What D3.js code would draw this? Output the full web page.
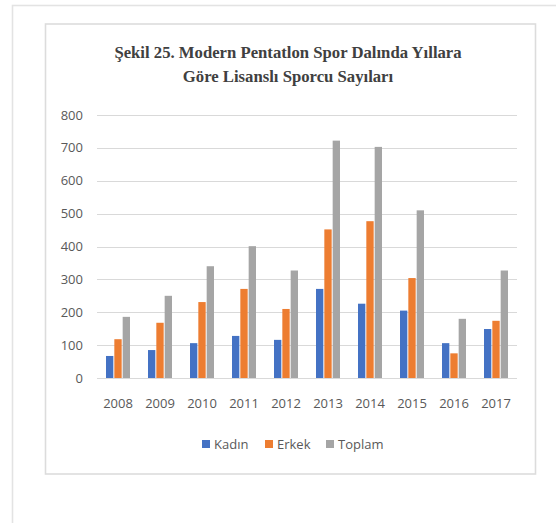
<!DOCTYPE html>
<html>
<head>
<meta charset="utf-8">
<script src="https://cdn.jsdelivr.net/npm/d3@7"></script>
<style>
  body { margin: 0; background: #fff; }
  svg { display: block; }
</style>
</head>
<body>
<svg id="chart"></svg>
<script>
const width = 556;
const height = 523;

// values
const years = ["2008", "2009", "2010", "2011", "2012", "2013", "2014", "2015", "2016", "2017"];
const seriesNames = ["Kadın", "Erkek", "Toplam"];
const kadin  = [67, 85, 106, 128, 116, 271, 226, 205, 106, 149];
const erkek  = [118, 168, 231, 271, 210, 452, 477, 304, 75, 174];
const toplam = [186, 250, 340, 401, 327, 722, 703, 510, 180, 327];
const yTicks = [0, 100, 200, 300, 400, 500, 600, 700, 800];
const colors = ["#4472C4", "#ED7D31", "#A5A5A5"];

const series = [kadin, erkek, toplam];
const rows = years.map((y, i) => ({year: y, values: series.map(s => s[i])}));

const svg = d3.select("#chart")
  .attr("width", width)
  .attr("height", height);

// outer frame (page) and chart box
svg.append("rect")
  .attr("x", 12.5).attr("y", 5.5)
  .attr("width", 600).attr("height", 600)
  .attr("fill", "none").attr("stroke", "#e3e3e3")
  .attr("stroke-width", 1.6);

svg.append("rect")
  .attr("x", 45.5).attr("y", 24)
  .attr("width", 490).attr("height", 450)
  .attr("fill", "#fff").attr("stroke", "#dcdcdc")
  .attr("stroke-width", 1.6);

const margin = {left: 97, right: 517, top: 115, bottom: 378};

const x = d3.scaleBand()
  .domain(years)
  .range([margin.left, margin.right]);

const x1 = d3.scaleBand()
  .domain(d3.range(3))
  .range([0, 24])
  .paddingInner(0.12);

const y = d3.scaleLinear()
  .domain([0, 800])
  .range([margin.bottom, margin.top]);

// title
svg.append("text")
  .attr("x", 290).attr("text-anchor", "middle")
  .attr("font-family", "'Liberation Serif', 'Times New Roman', serif")
  .attr("font-weight", "bold")
  .attr("font-size", 16.7)
  .attr("fill", "#404040")
  .selectAll("tspan")
  .data(["Şekil 25. Modern Pentatlon Spor Dalında Yıllara", "Göre Lisanslı Sporcu Sayıları"])
  .join("tspan")
    .attr("x", 288)
    .attr("y", (d, i) => 58 + i * 24)
    .text(d => d);

// gridlines
svg.append("g")
  .selectAll("line")
  .data(yTicks)
  .join("line")
    .attr("x1", margin.left).attr("x2", margin.right)
    .attr("y1", d => Math.round(y(d)) + 0.5)
    .attr("y2", d => Math.round(y(d)) + 0.5)
    .attr("stroke", "#d9d9d9")
    .attr("stroke-width", 1.2);

// y labels
svg.append("g")
  .attr("font-family", "'Open Sans', sans-serif")
  .attr("font-size", 13)
  .attr("fill", "#595959")
  .selectAll("text")
  .data(yTicks)
  .join("text")
    .attr("x", 83)
    .attr("y", d => y(d))
    .attr("dy", "0.35em")
    .attr("text-anchor", "end")
    .text(d => d);

// bars
const groups = svg.append("g")
  .selectAll("g")
  .data(rows)
  .join("g")
    .attr("transform", d => `translate(${x(d.year) + (x.bandwidth() - 24) / 2},0)`);

groups.selectAll("rect")
  .data(d => d.values)
  .join("rect")
    .attr("x", (d, i) => x1(i))
    .attr("width", x1.bandwidth())
    .attr("y", d => y(d))
    .attr("height", d => y(0) - y(d))
    .attr("fill", (d, i) => colors[i]);

// x labels
svg.append("g")
  .attr("font-family", "'Open Sans', sans-serif")
  .attr("font-size", 13)
  .attr("fill", "#595959")
  .selectAll("text")
  .data(years)
  .join("text")
    .attr("x", d => x(d) + x.bandwidth() / 2)
    .attr("y", 408)
    .attr("text-anchor", "middle")
    .text(d => d);

// legend
const legendX = [202, 265, 326];
const legend = svg.append("g")
  .selectAll("g")
  .data(seriesNames)
  .join("g")
    .attr("transform", (d, i) => `translate(${legendX[i]},444)`);

legend.append("rect")
  .attr("x", 0).attr("y", -4)
  .attr("width", 8).attr("height", 8)
  .attr("fill", (d, i) => colors[i]);

legend.append("text")
  .attr("x", 12)
  .attr("dy", "0.35em")
  .attr("font-family", "'Open Sans', sans-serif")
  .attr("font-size", 13)
  .attr("fill", "#595959")
  .text(d => d);
</script>
</body>
</html>
